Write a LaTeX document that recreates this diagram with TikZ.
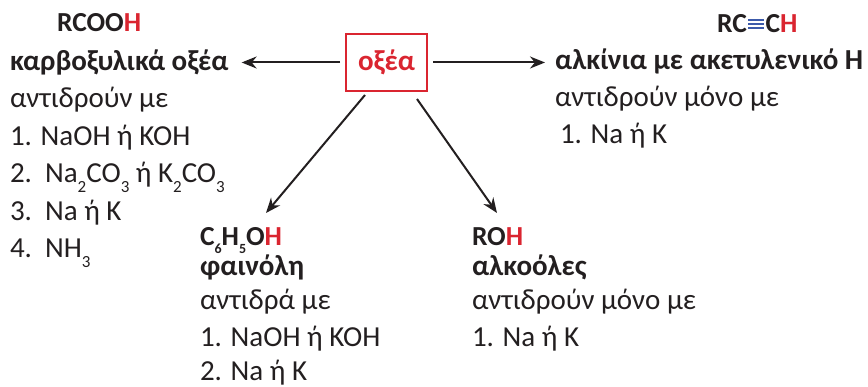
\documentclass[tikz,border=0pt]{standalone}
\usepackage{fontspec}
\setmainfont{Carlito}
\usetikzlibrary{arrows.meta}
\definecolor{myred}{RGB}{218,37,48}
\definecolor{txt}{RGB}{35,31,32}
\definecolor{bondblue}{RGB}{60,90,170}
\newcommand{\sbs}[1]{\raisebox{-0.33em}{\fontsize{17}{17}\selectfont #1}}
\newcommand{\fsb}[1]{\raisebox{-0.28em}{\fontsize{14}{14}\selectfont #1}}
\newcommand{\tbond}{\kern0.05em\textcolor{bondblue}{\raisebox{0.16em}{\vbox{\hrule width 0.58em height 0.06em\vskip0.085em\hrule width 0.58em height 0.06em\vskip0.085em\hrule width 0.58em height 0.06em}}}\kern0.05em}
\begin{document}
\begin{tikzpicture}[x=1pt,y=-1pt,
  every node/.style={inner sep=0pt, outer sep=0pt, anchor=base west, text=txt, font=\fontsize{29}{34}\selectfont},
  frm/.style={font=\fontsize{27.5}{30}\selectfont\bfseries},
  hd/.style={font=\fontsize{29}{34}\selectfont\bfseries},
  arr/.style={-{Stealth[length=15pt,width=12pt]}, line width=2pt, draw=txt}]
\useasboundingbox (0,0) rectangle (868,387);

\node[draw=myred, line width=2.5pt, minimum width=81pt, minimum height=57pt, anchor=center, text=myred, font=\fontsize{29}{34}\selectfont\bfseries] (ox) at (386.5,62.5) {οξέα};

% left block
\node[frm] (rcooh) at (57,32) {RCOO\textcolor{myred}{H}};
\node[hd] (carb) at (10,70.5) {καρβοξυλικά οξέα};
\node (l1) at (10,108) {αντιδρούν με};
\node (l2) at (10,145.5) {1. NaOH ή KOH};
\node (l3) at (10,183) {2.\ \ Na\sbs2CO\sbs3 ή K\sbs2CO\sbs3};
\node (l4) at (10,220.5) {3.\ \ Na ή K};
\node (l5) at (10,258) {4.\ \ NH\sbs3};

% right block
\node[frm] (rcch) at (717,33) {RC\tbond C\textcolor{myred}{H}};
\node[hd] (alk) at (555,70) {αλκίνια με ακετυλενικό H};
\node (r1) at (555,107) {αντιδρούν μόνο με};
\node (r2) at (560,144) {1. Na ή K};

% phenol block
\node[frm] (ph) at (200,246) {C\fsb6H\fsb5O\textcolor{myred}{H}};
\node[hd] (phn) at (200,276) {φαινόλη};
\node (p1) at (200,310) {αντιδρά με};
\node (p2) at (200,347) {1. NaOH ή KOH};
\node (p3) at (200,381) {2. Na ή K};

% alcohol block
\node[frm] (roh) at (472,246) {RO\textcolor{myred}{H}};
\node[hd] (alc) at (472,276) {αλκοόλες};
\node (a1) at (472,310) {αντιδρούν μόνο με};
\node (a2) at (472,347) {1. Na ή K};

% arrows
\draw[arr] ([xshift=-6pt]ox.west) -- ([xshift=13pt]carb.east |- ox.west);
\draw[arr] ([xshift=6pt]ox.east) -- ([xshift=-10pt]alk.west |- ox.east);
\draw[arr] ([xshift=-21.5pt,yshift=-4pt]ox.south) -- ([xshift=66pt,yshift=33pt]ph.base west);
\draw[arr] ([xshift=30.5pt,yshift=-8pt]ox.south) -- ([xshift=25pt,yshift=33pt]roh.base west);
\end{tikzpicture}
\end{document}
